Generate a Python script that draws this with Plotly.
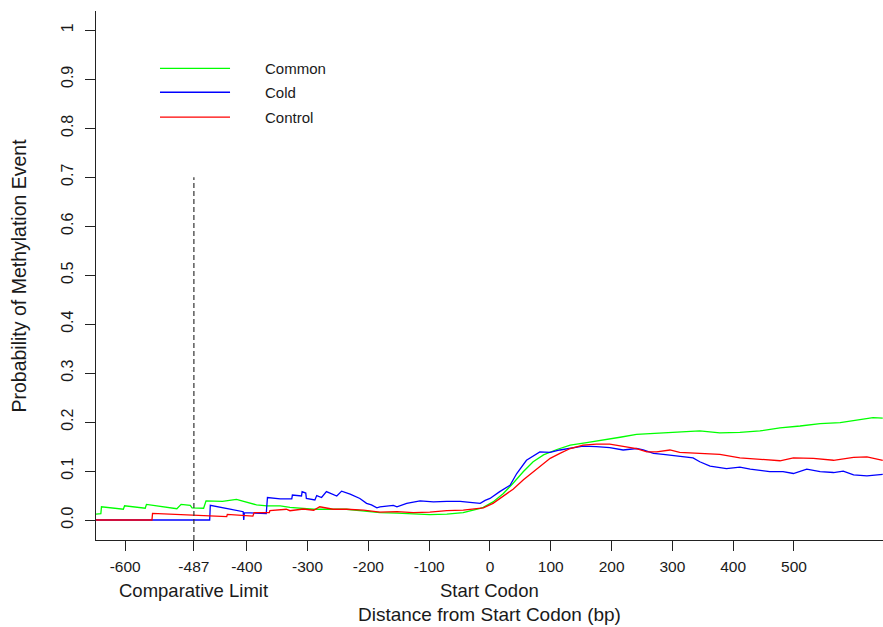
import plotly.graph_objects as go

# ---------------- data ----------------
common_x = [-648, -640, -639, -603, -601, -567, -565, -515, -508, -493, -490, -471, -467, -440, -417,
            -395, -384, -367, -345, -329, -290, -236, -208, -181, -153, -126, -99, -71, -44, -16,
            -11, 5, 22, 38, 55, 71, 88, 110, 132, 159, 186, 214, 241, 269, 296, 312, 345, 378,
            411, 444, 477, 510, 543, 576, 609, 630, 646]
common_y = [0.012, 0.013, 0.027, 0.022, 0.029, 0.024, 0.032, 0.023, 0.032, 0.030, 0.025, 0.024, 0.039,
            0.038, 0.042, 0.034, 0.031, 0.029, 0.029, 0.026, 0.022, 0.022, 0.018, 0.015, 0.014, 0.012,
            0.011, 0.012, 0.015, 0.024, 0.026, 0.037, 0.054, 0.075, 0.099, 0.119, 0.133, 0.144, 0.153,
            0.158, 0.163, 0.169, 0.175, 0.177, 0.180, 0.180, 0.182, 0.178, 0.179, 0.182, 0.188, 0.192,
            0.197, 0.199, 0.206, 0.209, 0.208]

cold_x = [-648, -461, -460, -406, -405, -404, -368, -366, -345, -326, -325, -310, -309, -303, -302,
          -288, -285, -277, -269, -252, -244, -230, -214, -203, -195, -186, -181, -170, -159, -153,
          -137, -115, -93, -71, -49, -33, -16, -8, 0, 16, 33, 44, 60, 82, 99, 115, 132, 153, 175,
          197, 219, 241, 252, 269, 285, 312, 334, 345, 362, 389, 411, 428, 444, 460, 482, 499, 521,
          543, 565, 581, 598, 620, 646]
cold_y = [0.0, 0.0, 0.030, 0.017, 0.0, 0.015, 0.013, 0.046, 0.043, 0.043, 0.051, 0.049, 0.058, 0.055,
          0.044, 0.041, 0.050, 0.046, 0.058, 0.049, 0.059, 0.053, 0.044, 0.034, 0.031, 0.025, 0.027,
          0.029, 0.030, 0.027, 0.034, 0.039, 0.037, 0.038, 0.038, 0.036, 0.034, 0.040, 0.044, 0.058,
          0.071, 0.095, 0.122, 0.139, 0.138, 0.143, 0.146, 0.151, 0.150, 0.148, 0.143, 0.146, 0.143,
          0.136, 0.134, 0.131, 0.127, 0.119, 0.110, 0.105, 0.108, 0.104, 0.102, 0.099, 0.099, 0.095,
          0.104, 0.099, 0.097, 0.100, 0.092, 0.090, 0.093]

control_x = [-648, -556, -555, -433, -432, -390, -388, -363, -362, -335, -329, -307, -290, -280, -258,
             -236, -208, -181, -153, -126, -99, -71, -44, -16, -11, 5, 22, 38, 55, 77, 99, 115, 132,
             153, 175, 197, 219, 241, 258, 274, 296, 312, 345, 378, 411, 444, 477, 499, 532, 565, 598,
             620, 646]
control_y = [0.0, 0.0, 0.0136, 0.0068, 0.0116, 0.008, 0.015, 0.015, 0.019, 0.022, 0.019, 0.0225, 0.020,
             0.027, 0.022, 0.022, 0.020, 0.016, 0.017, 0.015, 0.016, 0.019, 0.020, 0.0245, 0.025, 0.034,
             0.048, 0.063, 0.082, 0.105, 0.126, 0.136, 0.146, 0.153, 0.155, 0.155, 0.150, 0.146, 0.139,
             0.139, 0.143, 0.138, 0.136, 0.134, 0.127, 0.124, 0.121, 0.127, 0.126, 0.122, 0.128, 0.129,
             0.122]

series_names = ["Common", "Cold", "Control"]
series_colors = ["#00FF00", "#0000FF", "#FF0000"]

x_tick_vals = [-600, -487, -400, -300, -200, -100, 0, 100, 200, 300, 400, 500]
x_tick_text = ["-600", "-487", "-400", "-300", "-200", "-100", "0", "100", "200", "300", "400", "500"]
y_tick_vals = [0.0, 0.1, 0.2, 0.3, 0.4, 0.5, 0.6, 0.7, 0.8, 0.9, 1.0]
y_tick_text = ["0.0", "0.1", "0.2", "0.3", "0.4", "0.5", "0.6", "0.7", "0.8", "0.9", "1"]

limit_x = -487
limit_top = 0.7
marker_labels = [(-487, "Comparative Limit"), (0, "Start Codon")]

# ---------------- figure ----------------
FONT = "Liberation Sans, Arial, Helvetica, sans-serif"
TXT = "#1a1a1a"
Y_RANGE = [-0.0408, 1.0394]

fig = go.Figure()
for xs, ys, name, col in zip([common_x, cold_x, control_x], [common_y, cold_y, control_y],
                             series_names, series_colors):
    fig.add_trace(go.Scatter(x=xs, y=ys, mode="lines", name=name,
                             line=dict(color=col, width=1.3), showlegend=False))

# dashed comparative limit line
fig.add_shape(type="line", xref="x", yref="y", x0=limit_x, x1=limit_x, y0=Y_RANGE[0], y1=limit_top,
              line=dict(color="#333333", width=1.2, dash="5px,3px"))

# manual legend (line samples + labels)
leg_y = [0.8917, 0.8464, 0.7992]
for name, col, yy in zip(series_names, series_colors, leg_y):
    fig.add_shape(type="line", xref="paper", yref="paper", x0=0.0813, x1=0.1703, y0=yy, y1=yy,
                  line=dict(color=col, width=1.3))
    fig.add_annotation(xref="paper", yref="paper", x=0.2122, y=yy, text=name, showarrow=False,
                       xanchor="left", yanchor="middle", font=dict(family=FONT, size=15, color=TXT))

for xv, lab in marker_labels:
    fig.add_annotation(xref="x", yref="paper", x=xv, y=0, yshift=-50, text=lab, showarrow=False,
                       xanchor="center", yanchor="middle", font=dict(family=FONT, size=18.5, color=TXT))

fig.add_annotation(xref="paper", yref="paper", x=0.5, y=-0.1417, text="Distance from Start Codon (bp)",
                   showarrow=False, xanchor="center", yanchor="middle",
                   font=dict(family=FONT, size=19, color=TXT))
fig.add_annotation(xref="paper", yref="paper", x=-0.0991, y=0.5, text="Probability of Methylation Event",
                   showarrow=False, xanchor="center", yanchor="middle", textangle=-90,
                   font=dict(family=FONT, size=19.5, color=TXT))

fig.update_layout(
    width=883, height=627, autosize=False,
    margin=dict(l=96, r=0, t=11, b=87),
    paper_bgcolor="white", plot_bgcolor="white",
    font=dict(family=FONT, color=TXT),
    xaxis=dict(range=[-648, 646.4], showgrid=False, zeroline=False, showline=True,
               linecolor="#222222", linewidth=1.3, ticks="outside", ticklen=10, tickwidth=1.2,
               tickcolor="#222222", tickvals=x_tick_vals, ticktext=x_tick_text,
               tickfont=dict(family=FONT, size=15.5, color=TXT), ticklabelstandoff=2),
    yaxis=dict(range=Y_RANGE, showgrid=False, zeroline=False, showline=True,
               linecolor="#222222", linewidth=1.3, ticks="outside", ticklen=10, tickwidth=1.2,
               tickcolor="#222222", tickvals=y_tick_vals, ticktext=y_tick_text, tickangle=-90,
               tickfont=dict(family=FONT, size=16, color=TXT), ticklabelstandoff=5),
)

fig.write_html("out.html")
